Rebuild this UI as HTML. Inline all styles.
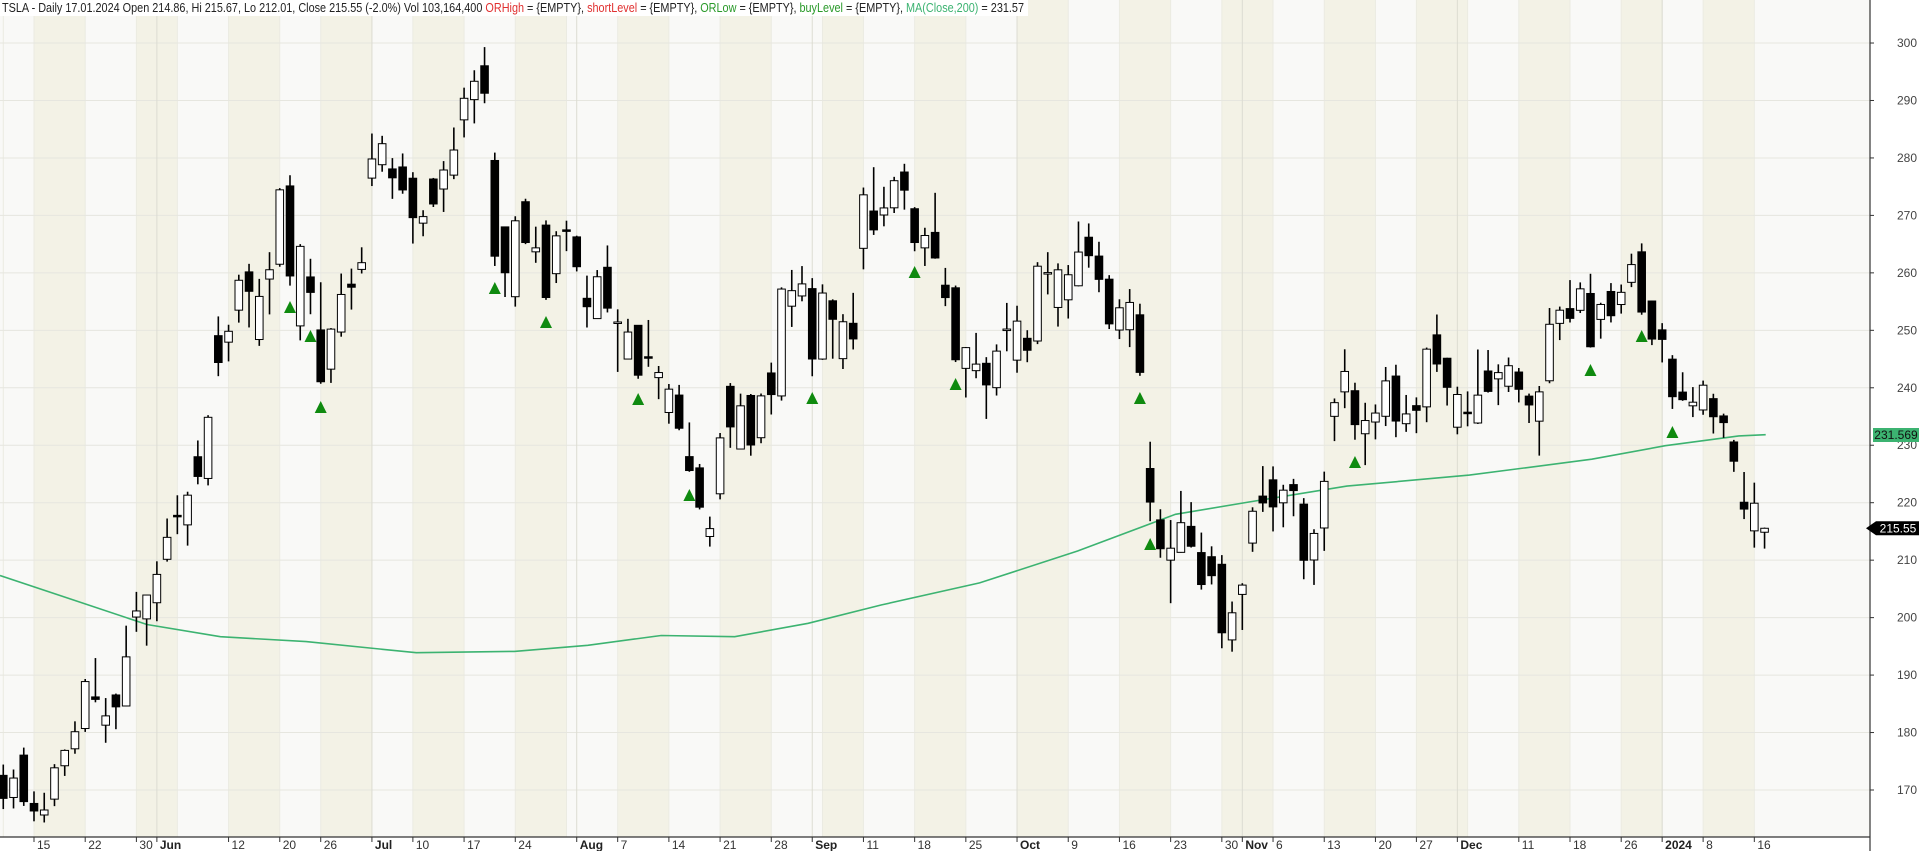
<!DOCTYPE html>
<html><head><meta charset="utf-8"><style>
html,body{margin:0;padding:0;background:#fff;width:1920px;height:851px;overflow:hidden}
svg{display:block;font-family:"Liberation Sans",Arial,sans-serif}
</style></head><body>
<svg id="c" width="1920" height="851" viewBox="0 0 1920 851" xmlns="http://www.w3.org/2000/svg"></svg>
<script>
var D=`2023-05-10 172.55 174.43 166.68 168.54
2023-05-11 168.7 173.57 166.79 172.08
2023-05-12 176.07 177.38 167.23 167.98
2023-05-15 167.66 169.76 164.55 166.35
2023-05-16 165.65 169.52 164.35 166.52
2023-05-17 168.41 174.5 167.19 173.86
2023-05-18 174.22 177.06 172.45 176.89
2023-05-19 177.17 181.95 176.31 180.14
2023-05-22 180.7 189.32 180.11 188.87
2023-05-23 186.2 192.96 185.26 185.77
2023-05-24 181.28 186.0 178.22 182.90
2023-05-25 186.54 186.78 180.58 184.47
2023-05-26 184.62 198.6 184.53 193.17
2023-05-30 200.1 204.48 197.53 201.16
2023-05-31 199.78 203.95 195.12 203.93
2023-06-01 202.59 209.8 199.37 207.52
2023-06-02 210.15 217.25 209.75 213.97
2023-06-05 217.8 221.29 214.52 217.61
2023-06-06 216.14 221.91 212.53 221.31
2023-06-07 228.0 230.83 223.2 224.57
2023-06-08 224.22 235.23 223.01 234.86
2023-06-09 249.07 252.42 242.02 244.40
2023-06-12 247.94 250.97 244.59 249.83
2023-06-13 253.51 259.68 251.34 258.71
2023-06-14 260.17 261.57 250.5 256.79
2023-06-15 248.4 258.95 247.29 255.90
2023-06-16 258.92 263.6 252.77 260.54
2023-06-20 261.5 274.75 261.07 274.45
2023-06-21 275.13 276.99 257.78 259.46
2023-06-22 250.77 265.0 248.25 264.61
2023-06-23 259.29 262.45 252.8 256.60
2023-06-26 250.07 258.37 240.7 241.05
2023-06-27 243.24 250.39 240.85 250.21
2023-06-28 249.7 259.88 248.89 256.24
2023-06-29 258.03 260.74 253.61 257.50
2023-06-30 260.6 264.45 259.89 261.77
2023-07-03 276.49 284.25 275.11 279.82
2023-07-05 278.82 283.85 277.6 282.48
2023-07-06 278.09 279.97 272.88 276.54
2023-07-07 278.43 280.78 273.77 274.43
2023-07-10 276.47 277.52 265.1 269.61
2023-07-11 268.65 270.9 266.37 269.79
2023-07-12 276.33 276.52 271.46 271.99
2023-07-13 274.59 279.45 270.6 277.90
2023-07-14 277.01 285.3 276.31 281.38
2023-07-17 286.63 292.23 283.57 290.38
2023-07-18 290.15 295.26 286.01 293.34
2023-07-19 296.04 299.29 289.52 291.26
2023-07-20 279.56 280.93 261.2 262.90
2023-07-21 268.0 268.0 255.8 260.02
2023-07-24 255.85 269.85 254.12 269.06
2023-07-25 272.38 272.9 265.0 265.28
2023-07-26 263.66 268.04 261.75 264.35
2023-07-27 268.31 269.13 255.3 255.71
2023-07-28 259.86 267.25 258.23 266.44
2023-07-31 267.48 269.08 263.78 267.43
2023-08-01 266.26 266.47 260.25 261.07
2023-08-02 255.57 259.52 250.49 254.11
2023-08-03 252.04 260.49 252.0 259.32
2023-08-04 260.97 264.77 253.11 253.86
2023-08-07 251.45 253.65 242.76 251.45
2023-08-08 245.0 252.0 245.0 249.70
2023-08-09 250.87 250.92 241.57 242.19
2023-08-10 245.4 251.8 243.65 245.34
2023-08-11 241.77 243.79 238.02 242.65
2023-08-14 235.7 240.66 233.75 239.76
2023-08-15 238.73 240.5 232.61 232.96
2023-08-16 228.02 233.97 225.38 225.60
2023-08-17 226.06 226.74 218.83 219.22
2023-08-18 214.12 217.58 212.36 215.49
2023-08-21 221.55 232.13 220.58 231.28
2023-08-22 240.25 240.82 229.55 233.19
2023-08-23 229.34 238.98 229.29 236.86
2023-08-24 238.66 238.92 228.18 230.04
2023-08-25 231.31 239.0 230.35 238.59
2023-08-28 242.58 244.38 235.35 238.82
2023-08-29 238.58 257.48 237.77 257.18
2023-08-30 254.2 260.51 250.59 256.90
2023-08-31 255.98 261.18 255.05 258.08
2023-09-01 257.26 259.08 242.01 245.01
2023-09-05 245.0 258.0 244.86 256.49
2023-09-06 255.14 255.39 245.06 251.92
2023-09-07 245.07 252.81 243.27 251.49
2023-09-08 251.22 256.52 246.67 248.50
2023-09-11 264.27 274.85 260.61 273.58
2023-09-12 270.76 278.39 266.6 267.48
2023-09-13 270.07 274.98 268.1 271.30
2023-09-14 271.32 276.71 270.42 276.04
2023-09-15 277.55 278.98 271.0 274.39
2023-09-18 271.16 271.44 263.76 265.28
2023-09-19 264.35 267.85 261.2 266.50
2023-09-20 267.04 273.93 262.46 262.59
2023-09-21 257.85 260.86 254.21 255.70
2023-09-22 257.4 257.79 244.48 244.88
2023-09-25 243.38 247.1 238.31 246.99
2023-09-26 242.98 249.55 241.66 244.12
2023-09-27 244.26 245.33 234.58 240.50
2023-09-28 240.02 247.55 238.65 246.38
2023-09-29 250.0 254.77 246.35 250.22
2023-10-02 244.81 254.28 242.62 251.60
2023-10-03 248.61 250.02 244.45 246.53
2023-10-04 248.14 261.86 247.6 261.16
2023-10-05 260.0 263.6 256.25 260.05
2023-10-06 253.98 261.65 250.65 260.53
2023-10-09 255.31 261.36 252.05 259.67
2023-10-10 257.75 268.94 257.65 263.62
2023-10-11 266.2 268.6 260.9 262.99
2023-10-12 262.92 265.41 256.63 258.87
2023-10-13 258.9 259.6 250.22 251.12
2023-10-16 250.05 255.4 248.48 253.92
2023-10-17 250.1 257.18 247.08 254.85
2023-10-18 252.7 254.63 242.08 242.68
2023-10-19 225.95 230.61 216.78 220.11
2023-10-20 217.01 218.86 210.42 211.99
2023-10-23 210.0 216.98 202.51 212.08
2023-10-24 211.36 222.05 211.3 216.52
2023-10-25 215.88 220.1 212.2 212.42
2023-10-26 211.32 214.8 204.88 205.76
2023-10-27 210.6 212.41 205.77 207.30
2023-10-30 209.28 210.88 194.67 197.36
2023-10-31 196.12 202.8 194.07 200.84
2023-11-01 204.04 205.99 197.85 205.66
2023-11-02 212.97 219.2 211.45 218.51
2023-11-03 221.15 226.37 218.4 219.96
2023-11-06 223.98 226.32 215.0 219.27
2023-11-07 219.98 223.12 215.72 222.18
2023-11-08 223.15 224.15 217.64 222.11
2023-11-09 219.75 220.8 206.68 209.98
2023-11-10 210.03 215.38 205.69 214.65
2023-11-13 215.6 225.4 211.61 223.71
2023-11-14 235.03 238.14 230.72 237.41
2023-11-15 239.29 246.7 236.45 242.84
2023-11-16 239.49 240.88 230.96 233.59
2023-11-17 232.0 237.39 226.54 234.30
2023-11-20 234.04 237.1 231.02 235.60
2023-11-21 235.04 243.62 233.34 241.20
2023-11-22 242.04 244.01 231.4 234.21
2023-11-24 233.75 238.75 232.33 235.45
2023-11-27 236.89 238.33 232.1 236.08
2023-11-28 236.68 247.0 234.01 246.72
2023-11-29 249.21 252.75 242.76 244.14
2023-11-30 245.14 245.22 236.91 240.08
2023-12-01 233.14 240.19 231.9 238.83
2023-12-04 235.75 239.37 233.29 235.58
2023-12-05 233.87 246.66 233.7 238.72
2023-12-06 242.92 246.57 239.17 239.37
2023-12-07 241.55 244.08 236.98 242.64
2023-12-08 240.27 245.27 239.27 243.84
2023-12-11 242.74 243.44 237.45 239.74
2023-12-12 238.55 238.99 233.87 237.01
2023-12-13 234.19 240.3 228.2 239.29
2023-12-14 241.22 253.88 240.79 251.05
2023-12-15 251.21 254.13 248.3 253.50
2023-12-18 253.78 258.74 251.36 252.08
2023-12-19 253.48 258.34 253.01 257.22
2023-12-20 256.41 259.84 247.0 247.14
2023-12-21 251.9 254.8 248.55 254.50
2023-12-22 256.76 258.22 251.37 252.54
2023-12-26 254.49 257.97 252.91 256.61
2023-12-27 258.35 263.34 257.52 261.44
2023-12-28 263.66 265.13 252.71 253.18
2023-12-29 255.1 255.19 247.43 248.48
2024-01-02 250.08 251.25 244.41 248.42
2024-01-03 244.98 245.68 236.32 238.45
2024-01-04 239.25 242.7 237.73 237.93
2024-01-05 236.86 240.12 234.9 237.49
2024-01-08 236.14 241.25 235.3 240.45
2024-01-09 238.11 238.96 232.04 234.96
2024-01-10 235.1 235.5 231.29 233.94
2024-01-11 230.57 230.93 225.37 227.22
2024-01-12 220.08 225.34 217.15 218.89
2024-01-16 215.1 223.49 212.18 219.91
2024-01-17 214.86 215.67 212.01 215.55`.trim().split('\n').map(function(l){var a=l.split(' ');return {d:a[0],o:+a[1],h:+a[2],l:+a[3],c:+a[4]};});
var NS='http://www.w3.org/2000/svg',S=document.getElementById('c');
function el(t,a,txt){var e=document.createElementNS(NS,t);for(var k in a)e.setAttribute(k,a[k]);if(txt!=null)e.textContent=txt;S.appendChild(e);return e;}
var AX=1870,BY=837,SP=10.24,I0=3;
function X(i){return 34+(i-I0)*SP;}
function Y(p){return 790-(p-170)*5.746;}
el('rect',{x:0,y:0,width:AX,height:BY,fill:'#f9f9f7'});
function wk(d){var t=Date.UTC(+d.slice(0,4),+d.slice(5,7)-1,+d.slice(8,10))/864e5;return Math.floor((t+3)/7);}
var w0=wk('2023-05-15');
var starts=[];
D.forEach(function(r,i){var w=wk(r.d);if(i==0||w!=wk(D[i-1].d))starts.push({i:i,w:w});});
starts.forEach(function(s,k){var x1=X(s.i),x2=k+1<starts.length?X(starts[k+1].i):AX;if(x1<0)x1=0;
 if((s.w-w0)%2==0)el('rect',{x:x1,y:0,width:x2-x1,height:BY,fill:'#f3f2e6'});
 el('line',{x1:X(s.i),y1:0,x2:X(s.i),y2:BY,stroke:'#ebebe2','stroke-width':1});});
for(var p=170;p<=300;p+=10){var y=Y(p);el('line',{x1:0,y1:y,x2:AX,y2:y,stroke:'#e6e6df','stroke-width':1});
 el('line',{x1:AX,y1:y,x2:AX+4,y2:y,stroke:'#333'});
 el('text',{x:1917,y:y+4,'font-size':12,fill:'#444','text-anchor':'end'},p);}
var mn=['Jan','Feb','Mar','Apr','May','Jun','Jul','Aug','Sep','Oct','Nov','Dec'];
var ms=[];
D.forEach(function(r,i){if(i>0&&r.d.slice(5,7)!=D[i-1].d.slice(5,7)){ms.push(i);el('line',{x1:X(i),y1:0,x2:X(i),y2:BY,stroke:'#dcdcd2'});}});
function tick(x,lab,b){el('line',{x1:x,y1:BY,x2:x,y2:BY+5,stroke:'#333'});
 el('text',{x:x+3,y:BY+12,'font-size':12,fill:b?'#222':'#333','font-weight':b?'bold':'normal'},lab);}
ms.forEach(function(i){var r=D[i];tick(X(i),r.d.slice(5,7)=='01'?r.d.slice(0,4):mn[+r.d.slice(5,7)-1],true);});
starts.forEach(function(s){if(s.i<I0)return;
 if(ms.some(function(m){var d=m-s.i;return (d>=0&&d<2)||(d<0&&d>=-2);}))return;
 tick(X(s.i),+D[s.i].d.slice(8,10),false);});
el('line',{x1:0,y1:BY,x2:AX,y2:BY,stroke:'#333','stroke-width':1.2});
el('line',{x1:AX,y1:0,x2:AX,y2:851,stroke:'#333','stroke-width':1.2});
var ma=[[0,470],[60,490],[120,510],[180,520],[250,524],[340,533],[420,532],[480,527],[540,519],[600,520],[660,509],[720,494],[800,476],[880,450],[960,420],[1020,410],[1100,397],[1200,388],[1300,375],[1360,364],[1420,356],[1442,355]];
el('polyline',{points:ma.map(function(q){return (q[0]*1.2245).toFixed(1)+','+(q[1]*1.2245).toFixed(1);}).join(' '),fill:'none',stroke:'#3cb371','stroke-width':1.6});
D.forEach(function(r,i){var x=X(i);
 el('line',{x1:x,y1:Y(r.h),x2:x,y2:Y(r.l),stroke:'#000','stroke-width':1.6});
 var t=Y(Math.max(r.o,r.c)),b=Y(Math.min(r.o,r.c));if(b-t<1.5){b=t+1.5;}
 el('rect',{x:x-3.8,y:t,width:7.6,height:b-t,fill:r.c<r.o?'#000':'#fff',stroke:'#000','stroke-width':1});});
[[291,307],[311,336],[321,407],[496,288],[547,322],[638,399],[689,495],[813,398],[916,272],[956,384],[1140,398],[1151,544],[1356,462],[1592,370],[1642,336],[1673,432]].forEach(function(q){
 var k=Math.round((q[0]-34)/SP),x=34+k*SP,y=q[1];
 el('polygon',{points:(x-6)+','+(y+6)+' '+(x+6)+','+(y+6)+' '+x+','+(y-6),fill:'#0f8a0f'});});
var ym=435;el('rect',{x:1873,y:ym-7,width:46,height:14,fill:'#3cb371'});
el('text',{x:1896,y:ym+4,'font-size':12,fill:'#111','text-anchor':'middle'},'231.569');
var yc=Y(215.55);el('polygon',{points:'1866,'+yc+' 1876,'+(yc-7)+' 1919,'+(yc-7)+' 1919,'+(yc+7)+' 1876,'+(yc+7),fill:'#000'});
el('text',{x:1898,y:yc+4,'font-size':12,fill:'#fff','text-anchor':'middle'},'215.55');
el('rect',{x:0,y:0,width:1028,height:16,fill:'#fff'});
var h=el('text',{x:2,y:12,'font-size':12.5,fill:'#222',textLength:1022,lengthAdjust:'spacingAndGlyphs'});
[['TSLA - Daily 17.01.2024 Open 214.86, Hi 215.67, Lo 212.01, Close 215.55 (-2.0%) Vol 103,164,400 ','#222'],['ORHigh','#e03030'],[' = {EMPTY}, ','#222'],['shortLevel','#e03030'],[' = {EMPTY}, ','#222'],['ORLow','#2a9a2a'],[' = {EMPTY}, ','#222'],['buyLevel','#2a9a2a'],[' = {EMPTY}, ','#222'],['MA(Close,200)','#3cb371'],[' = 231.57','#222']].forEach(function(p){var t=document.createElementNS(NS,'tspan');t.setAttribute('fill',p[1]);t.textContent=p[0];h.appendChild(t);});
</script>
</body></html>
